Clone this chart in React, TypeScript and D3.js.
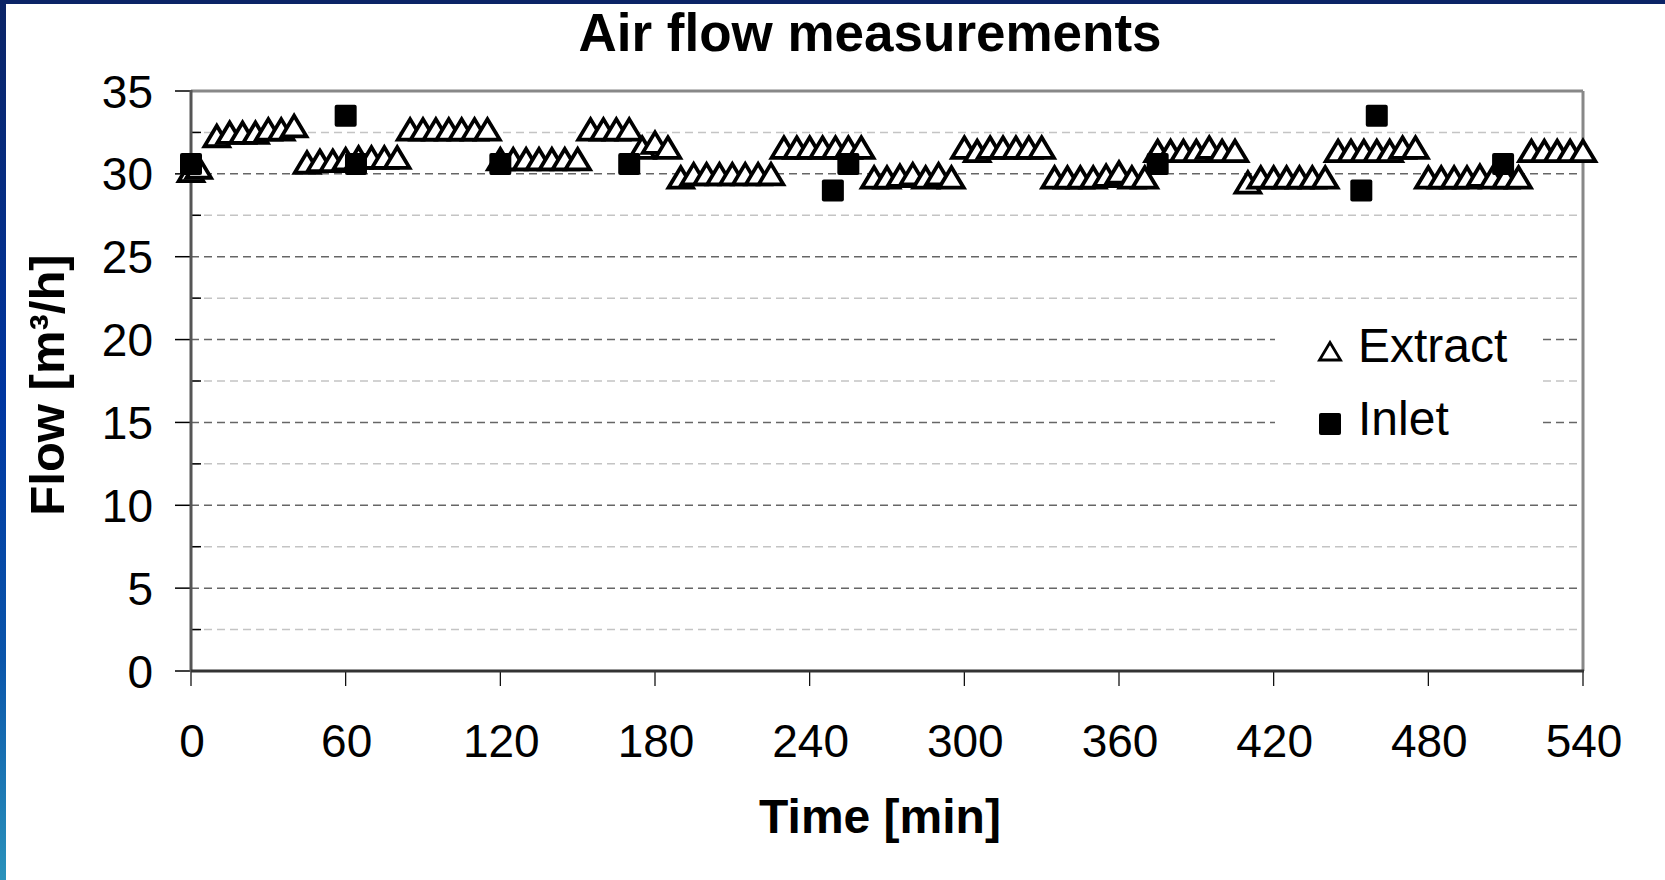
import React from 'react';
import * as d3 from 'd3';

const title = 'Air flow measurements';
const xTitle = 'Time [min]';
const yTitle = 'Flow [m³/h]';
const seriesNames = ['Extract', 'Inlet'];

const xTicks = [0, 60, 120, 180, 240, 300, 360, 420, 480, 540];
const yTicks = [0, 5, 10, 15, 20, 25, 30, 35];
const yMinorTicks = [2.5, 7.5, 12.5, 17.5, 22.5, 27.5, 32.5];

const extractTime = [
  0, 3,
  10, 15, 20, 25, 30, 35, 40,
  45, 50, 55, 60, 65, 70, 75, 80,
  85, 90, 95, 100, 105, 110, 115,
  120, 125, 130, 135, 140, 145, 150,
  155, 160, 165, 170,
  175, 180, 185,
  190, 195, 200, 205, 210, 215, 220, 225,
  230, 235, 240, 245, 250, 255, 260,
  265, 270, 275, 280, 285, 290, 295,
  300, 305, 310, 315, 320, 325, 330,
  335, 340, 345, 350, 355, 360, 365, 370,
  375, 380, 385, 390, 395, 400, 405,
  410, 415, 420, 425, 430, 435, 440,
  445, 450, 455, 460, 465, 470, 475,
  480, 485, 490, 495, 500, 505, 510, 515,
  520, 525, 530, 535, 540,
];
const extractFlow = [
  30.2, 30.4,
  32.3, 32.5, 32.5, 32.5, 32.7, 32.7, 32.9,
  30.7, 30.8, 30.8, 30.9, 31.0, 31.0, 31.0, 31.0,
  32.7, 32.7, 32.7, 32.7, 32.7, 32.7, 32.7,
  30.9, 30.9, 30.9, 30.9, 30.9, 30.9, 30.9,
  32.7, 32.7, 32.7, 32.7,
  31.6, 31.9, 31.6,
  29.8, 30.0, 30.0, 30.0, 30.0, 30.0, 30.0, 30.0,
  31.6, 31.6, 31.6, 31.6, 31.6, 31.6, 31.6,
  29.8, 29.8, 29.9, 30.0, 29.8, 30.0, 29.8,
  31.6, 31.4, 31.6, 31.6, 31.6, 31.6, 31.6,
  29.8, 29.8, 29.8, 29.8, 29.9, 30.1, 29.8, 29.8,
  31.4, 31.4, 31.4, 31.4, 31.6, 31.4, 31.4,
  29.5, 29.8, 29.8, 29.8, 29.8, 29.8, 29.8,
  31.4, 31.4, 31.4, 31.4, 31.4, 31.6, 31.6,
  29.8, 29.8, 29.8, 29.8, 29.9, 29.8, 29.8, 29.8,
  31.4, 31.4, 31.4, 31.4, 31.4,
];

const inletTime = [0, 60, 64, 120, 170, 249, 255, 375, 454, 460, 509];
const inletFlow = [30.6, 33.5, 30.6, 30.6, 30.6, 29.0, 30.6, 30.6, 29.0, 33.5, 30.6];

const FONT = "'Liberation Sans', Arial, Helvetica, sans-serif";

export default function App() {
  const W = 1665;
  const H = 880;
  const L = 191, R = 1583, T = 91, B = 671;
  const x = d3.scaleLinear().domain([0, 540]).range([L, R]);
  const y = d3.scaleLinear().domain([0, 35]).range([B, T]);

  const triPath = 'M0,-10L12.3,10.5L-12.3,10.5Z';
  const legTri = 'M0,-8.5L10.5,9L-10.5,9Z';

  const extract = extractTime.map((t, i) => ({ t, v: extractFlow[i] }));
  const inlet = inletTime.map((t, i) => ({ t, v: inletFlow[i] }));

  const legX = 1330, legY1 = 351, legY2 = 424;

  return (
    <svg width={W} height={H} style={{ position: 'absolute', left: 0, top: 0, background: '#fff' }}
      fontFamily={FONT}>
      <defs>
        <linearGradient id="leftbar" x1="0" y1="0" x2="0" y2="1">
          <stop offset="0" stopColor="#0b2466" />
          <stop offset="0.45" stopColor="#0036a0" />
          <stop offset="0.75" stopColor="#0a55aa" />
          <stop offset="1" stopColor="#2a92bb" />
        </linearGradient>
      </defs>
      <rect x={0} y={0} width={W} height={H} fill="#fff" />
      <rect x={0} y={0} width={W} height={4} fill="#0b2466" />
      <rect x={0} y={0} width={6} height={H} fill="url(#leftbar)" />

      {yMinorTicks.map((v) => (
        <line key={'mg' + v} x1={L} x2={R} y1={y(v)} y2={y(v)} stroke="#c4c4c4" strokeWidth={1.5} strokeDasharray="8,5" />
      ))}
      {yTicks.filter((v) => v > 0 && v < 35).map((v) => (
        <line key={'Mg' + v} x1={L} x2={R} y1={y(v)} y2={y(v)} stroke="#666" strokeWidth={1.5} strokeDasharray="8,5" />
      ))}

      <rect x={1275} y={310} width={268} height={142} fill="#fff" />

      <line x1={L} x2={R} y1={T} y2={T} stroke="#888" strokeWidth={3} />
      <line x1={R} x2={R} y1={T} y2={B} stroke="#888" strokeWidth={3} />

      {yMinorTicks.map((v) => (
        <line key={'mt' + v} x1={L} x2={L + 10} y1={y(v)} y2={y(v)} stroke="#000" strokeWidth={1.5} />
      ))}
      {yTicks.map((v) => (
        <line key={'Mt' + v} x1={L - 16} x2={L} y1={y(v)} y2={y(v)} stroke="#000" strokeWidth={1.5} />
      ))}
      {xTicks.map((v) => (
        <line key={'xt' + v} x1={x(v)} x2={x(v)} y1={B} y2={B + 15} stroke="#000" strokeWidth={1.2} />
      ))}

      <line x1={L} x2={L} y1={T - 1} y2={B + 1} stroke="#555" strokeWidth={3} />
      <line x1={L} x2={R + 1} y1={B} y2={B} stroke="#333" strokeWidth={3} />

      {yTicks.map((v) => (
        <text key={'yl' + v} x={153} y={y(v) + 16.5} textAnchor="end" fontSize={46} fill="#000">{v}</text>
      ))}
      {xTicks.map((v) => (
        <text key={'xl' + v} x={x(v) + 1} y={757} textAnchor="middle" fontSize={46} fill="#000">{v}</text>
      ))}

      {extract.map((d, i) => (
        <path key={'e' + i} d={triPath} transform={`translate(${x(d.t)},${y(d.v)})`}
          fill="#fff" stroke="#000" strokeWidth={3.8} strokeLinejoin="miter" />
      ))}
      {inlet.map((d, i) => (
        <rect key={'i' + i} x={x(d.t) - 11} y={y(d.v) - 11} width={22} height={22} rx={2}
          fill="#000" />
      ))}

      <path d={legTri} transform={`translate(${legX},${legY1})`} fill="#fff" stroke="#000" strokeWidth={2.8} />
      <text x={1358} y={362} fontSize={48} fill="#000">{seriesNames[0]}</text>
      <rect x={legX - 11} y={legY2 - 11} width={22} height={22} rx={2} fill="#000" />
      <text x={1358} y={435} fontSize={48} fill="#000">{seriesNames[1]}</text>

      <text x={870} y={51} textAnchor="middle" fontSize={53} fontWeight="bold" fill="#000">{title}</text>
      <text x={880} y={833} textAnchor="middle" fontSize={48} fontWeight="bold" fill="#000">{xTitle}</text>
      <text transform="translate(64,385) rotate(-90)" textAnchor="middle" fontSize={49} fontWeight="bold" fill="#000">{yTitle}</text>
    </svg>
  );
}
